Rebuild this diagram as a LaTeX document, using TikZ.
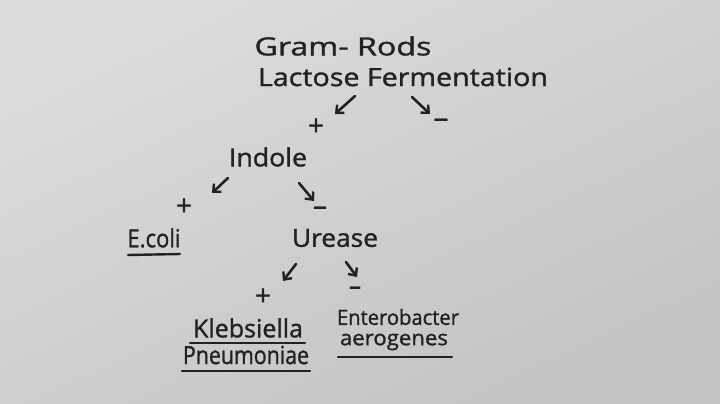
\documentclass[tikz,border=0pt]{standalone}
\usepackage{fontspec}
\setmainfont{Open Sans}
\newfontfamily\hand[FakeBold=1.2]{Open Sans}
\usepackage{graphicx}
\usetikzlibrary{arrows.meta}
\definecolor{ink}{HTML}{222222}
\definecolor{paperA}{HTML}{DCDCDA}
\definecolor{paperB}{HTML}{C3C3C3}
\newcommand{\hw}[2]{\resizebox{#1pt}{\height}{#2}}
\tikzset{
  lbl/.style={text=ink, inner sep=0pt, font=\hand\fontsize{25}{28}\selectfont},
  sml/.style={text=ink, inner sep=0pt, font=\hand\fontsize{21}{24}\selectfont},
  sgn/.style={text=ink, inner sep=0pt, font=\hand\fontsize{28}{30}\selectfont},
  arr/.style={draw=ink, line width=2.6pt, line cap=round, -{Straight Barb[length=6pt,width=11pt,line width=2.4pt]}},
  ul/.style={draw=ink, line width=2.4pt, line cap=round}
}
\begin{document}
\begin{tikzpicture}[x=1pt,y=-1pt]
\shade[top color=paperA, bottom color=paperB, shading angle=25] (0,0) rectangle (720,404);
\useasboundingbox (0,0) rectangle (720,404);
% texts
\node[lbl] (gram) at (343,46) {\hw{177}{Gram- Rods}};
\node[lbl] (lac) at (403,77) {\hw{290}{Lactose Fermentation}};
\node[sgn] (p1) at (316,127) {+};
\node[sgn] (m1) at (441,123) {\hw{15}{–}};
\node[lbl] (ind) at (268,157) {\hw{78}{Indole}};
\node[sgn] (p2) at (184,207) {+};
\node[sgn] (m2) at (320,211) {\hw{14}{–}};
\node[lbl] (ecoli) at (154,238) {\hw{53}{E.coli}};
\node[lbl] (ure) at (335,238) {\hw{86}{Urease}};
\node[sgn] (p3) at (263,297) {+};
\node[sgn] (m3) at (355,291) {\hw{12}{–}};
\node[lbl] (kleb) at (248,328) {\hw{110}{Klebsiella}};
\node[lbl] (pneu) at (246,355) {\hw{126}{Pneumoniae}};
\node[sml] (ent) at (398,317) {\hw{122}{Enterobacter}};
\node[sml] (aer) at (394,342) {\hw{108}{aerogenes}};
% arrow end points
\coordinate (a1s) at (355,96); \coordinate (a1e) at (335,114);
\coordinate (b1s) at (412,97); \coordinate (b1e) at (430,114);
\coordinate (a2s) at (228,178); \coordinate (a2e) at (212,193);
\coordinate (b2s) at (299,183); \coordinate (b2e) at (314,201);
\coordinate (a3s) at (296,264); \coordinate (a3e) at (283,281);
\coordinate (b3s) at (346,262); \coordinate (b3e) at (357,277);
\draw[arr] (a1s) -- (a1e);
\draw[arr] (b1s) -- (b1e);
\draw[arr] (a2s) -- (a2e);
\draw[arr] (b2s) -- (b2e);
\draw[arr] (a3s) -- (a3e);
\draw[arr] (b3s) -- (b3e);
% underlines
\coordinate (c1) at (128,255); \coordinate (c2) at (180,254);
\coordinate (k1) at (190,343); \coordinate (k2) at (305,343);
\coordinate (q1) at (182,371); \coordinate (q2) at (310,371);
\coordinate (e1) at (338,357); \coordinate (e2) at (452,357);
\draw[ul] (c1) -- (c2);
\draw[ul] (k1) -- (k2);
\draw[ul] (q1) -- (q2);
\draw[ul] (e1) -- (e2);
\end{tikzpicture}
\end{document}
